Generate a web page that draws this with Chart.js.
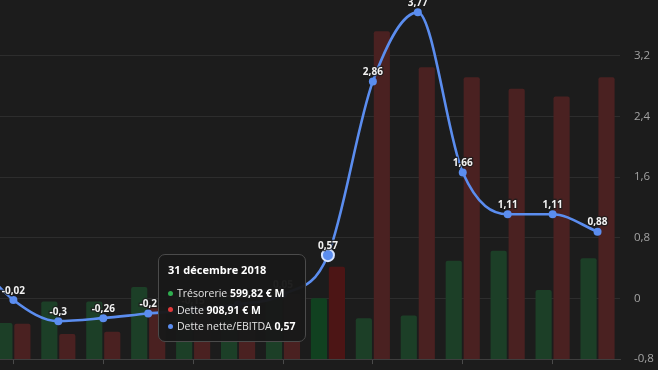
<!DOCTYPE html>
<html><head><meta charset="utf-8">
<script src="https://cdn.jsdelivr.net/npm/chart.js@4.4.1/dist/chart.umd.min.js"></script>
<style>
html,body{margin:0;padding:0;background:#1c1c1c;overflow:hidden;width:658px;height:370px;font-family:"Open Sans",sans-serif;}
#wrap{position:absolute;left:-60px;top:-26px;width:718px;height:406px;}
#tt{position:absolute;background:rgba(25,25,25,0.97);border:1px solid #4b4b4b;border-radius:7px;padding:7px 10px 6px 9px;color:#e4e4e4;font-size:10.5px;white-space:nowrap;box-sizing:border-box;}
#tt .t{font-weight:700;color:#fff;font-size:11px;margin-bottom:7px;line-height:16px;}
#tt .r{line-height:16.5px;}
#tt .r b{color:#fff;font-weight:700;}
#tt .d{display:inline-block;width:5px;height:5px;border-radius:50%;margin-right:4px;vertical-align:middle;position:relative;top:-1px;}
</style></head><body>
<div id="wrap"><canvas id="c"></canvas></div>
<div id="tt"></div>
<script>
const labels = ["31 décembre 2010","31 décembre 2011","31 décembre 2012","31 décembre 2013","31 décembre 2014","31 décembre 2015","31 décembre 2016","31 décembre 2017","31 décembre 2018","31 décembre 2019","31 décembre 2020","31 décembre 2021","31 décembre 2022","31 décembre 2023","31 décembre 2024"];
const tresorerie = [420, 356, 566, 566, 710, 650, 620, 600, 599.82, 403, 428, 968, 1066, 681, 992];
const dette = [520, 347, 248, 268, 514, 515, 550, 640, 908.91, 3227, 2873, 2775, 2661, 2586, 2775];
const ratio = [0.6, -0.02, -0.3, -0.26, -0.2, -0.15, -0.08, 0.05, 0.57, 2.86, 3.77, 1.66, 1.11, 1.11, 0.88];
const ratioTicks = { min: -0.8, max: 4.0, step: 0.8 };
const activeIndex = 8;

const fmt = v => Number(v.toFixed(2)).toString().replace('.', ',');
const fmtMoney = v => v.toLocaleString('fr-FR', {minimumFractionDigits: 2, maximumFractionDigits: 2});

const dataLabels = {
  id: 'dataLabels',
  afterDatasetsDraw(chart) {
    const meta = chart.getDatasetMeta(2);
    const ctx = chart.ctx;
    ctx.save();
    ctx.font = '700 10px "Open Sans"';
    ctx.textAlign = 'center';
    ctx.textBaseline = 'middle';
    meta.data.forEach((pt, i) => {
      const t = fmt(ratio[i]);
      ctx.lineWidth = 2.5;
      ctx.strokeStyle = 'rgba(28,28,28,0.8)';
      ctx.strokeText(t, pt.x, pt.y - 9);
      ctx.fillStyle = '#f2f2f2';
      ctx.fillText(t, pt.x, pt.y - 9);
    });
    ctx.restore();
  }
};

function external(context) {
  const {chart, tooltip} = context;
  const el = document.getElementById('tt');
  if (tooltip.opacity === 0 || !tooltip.dataPoints || !tooltip.dataPoints.length) { el.style.display = 'none'; return; }
  const idx = tooltip.dataPoints[0].dataIndex;
  const colors = ['#2fae4f', '#e0393a', '#5b8def'];
  el.innerHTML = '<div class="t">' + labels[idx] + '</div>' +
    '<div class="r"><span class="d" style="background:' + colors[0] + '"></span>Trésorerie <b>' + fmtMoney(tresorerie[idx]) + ' € M</b></div>' +
    '<div class="r"><span class="d" style="background:' + colors[1] + '"></span>Dette <b>' + fmtMoney(dette[idx]) + ' € M</b></div>' +
    '<div class="r"><span class="d" style="background:' + colors[2] + '"></span>Dette nette/EBITDA <b>' + fmt(ratio[idx]) + '</b></div>';
  el.style.display = 'block';
  const anchor = chart.getDatasetMeta(0).data[idx];
  const rect = chart.canvas.getBoundingClientRect();
  const ax = rect.left + anchor.x, ay = rect.top + anchor.y;
  el.style.left = (ax - 12 - el.offsetWidth) + 'px';
  el.style.top = (ay - el.offsetHeight / 2) + 'px';
}

const chart = new Chart(document.getElementById('c'), {
  data: {
    labels: labels,
    datasets: [
      { type: 'bar', label: 'Trésorerie', data: tresorerie, backgroundColor: '#1c3f27', yAxisID: 'yb', order: 1, borderRadius: 2 },
      { type: 'bar', label: 'Dette', data: dette, backgroundColor: '#4a2121', yAxisID: 'yb', order: 2, borderRadius: 2 },
      { type: 'line', label: 'Dette nette/EBITDA', data: ratio, yAxisID: 'y', order: 0,
        borderColor: '#5b8def', backgroundColor: '#5b8def', borderWidth: 2.6,
        cubicInterpolationMode: 'monotone', pointRadius: 4, pointBackgroundColor: '#5b8def', pointBorderWidth: 0,
        pointHoverRadius: 6, pointHoverBorderWidth: 2, pointHoverBorderColor: '#d6e4ff', pointHoverBackgroundColor: '#5b8def' }
    ]
  },
  options: {
    responsive: true, maintainAspectRatio: false, animation: false,
    interaction: { mode: 'index', intersect: false },
    layout: { padding: 0 },
    plugins: {
      legend: { display: false },
      tooltip: { enabled: false, external: external }
    },
    scales: {
      x: {
        offset: true,
        grid: { offset: false, drawOnChartArea: false, drawTicks: true, tickLength: 5,
          tickColor: c => (c.index % 2 === 1 ? '#4a4a4a' : 'rgba(0,0,0,0)') },
        border: { display: true, color: '#3e3e3e' },
        ticks: { display: false }
      },
      y: {
        position: 'right', min: ratioTicks.min, max: ratioTicks.max,
        grid: { color: '#2d2d2d', drawTicks: false },
        border: { display: false },
        ticks: { stepSize: ratioTicks.step, padding: 14, color: '#a3a3a3', font: { family: 'Open Sans', size: 11.5 },
          callback: v => fmt(v) },
        afterFit: s => { s.width = 38; }
      },
      yb: { display: false, min: 0, max: 3585 }
    }
  },
  plugins: [dataLabels]
});

const act = [0, 1, 2].map(d => ({ datasetIndex: d, index: activeIndex }));
chart.setActiveElements(act);
const p = chart.getDatasetMeta(0).data[activeIndex];
chart.tooltip.setActiveElements(act, { x: p.x, y: p.y });
chart.update();
</script>
</body></html>
